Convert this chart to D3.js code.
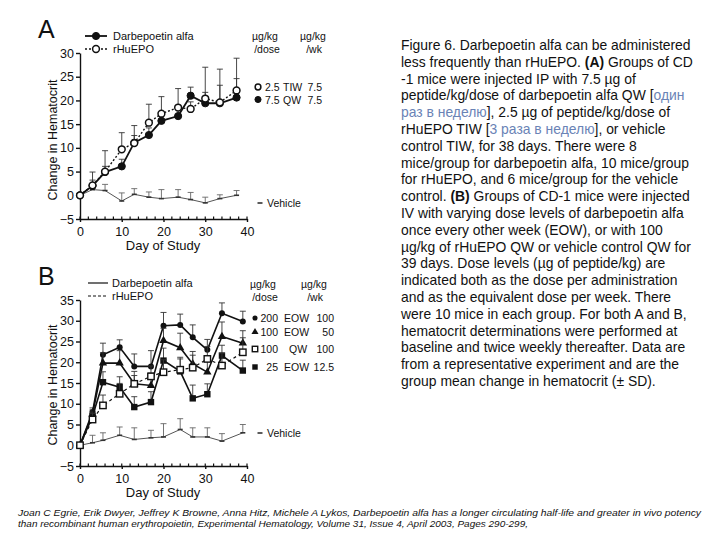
<!DOCTYPE html>
<html><head><meta charset="utf-8">
<script src="https://cdn.jsdelivr.net/npm/d3@7"></script>
<style>
body{margin:0;background:#fff}
svg{display:block}
text{font-family:"Liberation Sans",Arial,sans-serif;fill:#111}
</style>
</head><body>
<svg id="c" width="720" height="540"></svg>
<script>
// ---------- DATA ----------
const xTicks = [0, 10, 20, 30, 40];
const yTicksA = [-5, 0, 5, 10, 15, 20, 25, 30];
const yTicksB = [-5, 0, 5, 10, 15, 20, 25, 30, 35];

// Panel A
const daysA   = [0, 3, 6, 10, 13, 16.5, 19.5, 23.5, 26.5, 30, 33.5, 37.5];
const darbA   = [0, 2.0, 4.9, 6.1, 11.1, 12.7, 15.7, 16.7, 21.0, 19.4, 19.4, 20.6];
const darbASd = [0, 1.2, 1.2, 1.5, 1.5, 1.5, 1.5, 1.5, 1.8, 2.3, 3.8, 4.0];
const epoA    = [0, 2.1, 5.0, 9.7, 11.0, 15.3, 17.2, 18.5, 18.2, 20.4, 19.6, 22.1];
const epoASd  = [0, 2.8, 4.4, 3.5, 3.7, 3.9, 3.6, 4.0, 1.5, 6.6, 7.0, 6.8];
const vehA    = [0, 1.2, 1.0, -1.2, 0.2, -0.4, -0.7, -0.4, -0.9, -1.6, -0.7, 0.0];
const vehASd  = [0, 0.6, 1.3, 1.7, 1.2, 1.1, 1.9, 1.6, 1.5, 1.2, 0.8, 1.0];

// Panel B
const daysB   = [0, 3, 5.5, 9.5, 13, 17, 20, 24, 27, 30.5, 34, 39];
const d200B   = [0, 8.0, 21.8, 23.6, 19.0, 19.0, 28.8, 29.0, 26.0, 23.0, 31.8, 29.8];
const d200BSd = [0, 1.0, 2.8, 1.8, 3.0, 3.8, 3.2, 2.6, 3.0, 2.5, 2.5, 2.5];
const d100B   = [0, 7.5, 19.8, 19.8, 14.8, 14.4, 25.2, 23.5, 19.6, 17.6, 26.2, 24.6];
const d100BSd = [0, 1.0, 2.5, 3.0, 3.0, 3.0, 3.0, 3.5, 3.0, 3.0, 3.5, 3.0];
const epoB    = [0, 6.2, 9.6, 12.4, 14.8, 16.6, 17.6, 18.2, 18.7, 20.8, 19.2, 22.4];
const epoBSd  = [0, 1.5, 2.5, 2.5, 2.0, 2.5, 3.0, 3.0, 3.0, 3.0, 3.0, 3.5];
const d25B    = [0, 7.0, 15.2, 14.0, 9.2, 10.4, 20.4, 17.8, 11.3, 12.3, 21.6, 18.0];
const d25BSd  = [0, 1.0, 2.5, 2.5, 2.5, 2.5, 3.0, 3.0, 3.2, 2.5, 2.5, 2.5];
const vehB    = [0, 0.6, 1.2, 2.4, 1.4, 1.8, 2.0, 3.8, 2.0, 2.0, 1.0, 3.0];
const vehBSd  = [0, 1.8, 1.8, 2.0, 2.8, 1.8, 3.2, 2.6, 2.2, 2.2, 1.8, 2.0];

// Legend labels
const legA = [["2.5", "TIW", "7.5"], ["7.5", "QW", "7.5"]];
const legB = [["200", "EOW", "100"], ["100", "EOW", "50"], ["100", "QW", "100"], ["25", "EOW", "12.5"]];

// Caption
const caption = [
  [["Figure 6. Darbepoetin alfa can be administered"]],
  [["less frequently than rHuEPO. "], ["(A)", "b"], [" Groups of CD"]],
  [["-1 mice were injected IP with 7.5 µg of"]],
  [["peptide/kg/dose of darbepoetin alfa QW ["], ["один", "r"]],
  [["раз в неделю", "r"], ["], 2.5 µg of peptide/kg/dose of"]],
  [["rHuEPO TIW ["], ["3 раза в неделю", "r"], ["], or vehicle"]],
  [["control TIW, for 38 days. There were 8"]],
  [["mice/group for darbepoetin alfa, 10 mice/group"]],
  [["for rHuEPO, and 6 mice/group for the vehicle"]],
  [["control. "], ["(B)", "b"], [" Groups of CD-1 mice were injected"]],
  [["IV with varying dose levels of darbepoetin alfa"]],
  [["once every other week (EOW), or with 100"]],
  [["µg/kg of rHuEPO QW or vehicle control QW for"]],
  [["39 days. Dose levels (µg of peptide/kg) are"]],
  [["indicated both as the dose per administration"]],
  [["and as the equivalent dose per week. There"]],
  [["were 10 mice in each group. For both A and B,"]],
  [["hematocrit determinations were performed at"]],
  [["baseline and twice weekly thereafter. Data are"]],
  [["from a representative experiment and are the"]],
  [["group mean change in hematocrit (± SD)."]]
];
const footer = [
  "Joan C Egrie, Erik Dwyer, Jeffrey K Browne, Anna Hitz, Michele A Lykos, Darbepoetin alfa has a longer circulating half-life and greater in vivo potency",
  "than recombinant human erythropoietin, Experimental Hematology, Volume 31, Issue 4, April 2003, Pages 290-299,"
];

// ---------- DRAW ----------
const svg = d3.select("#c");
const INK = "#111";

function symbol(g, type, cx, cy, k = 1) {
  if (type === "circleFill") g.append("circle").attr("cx", cx).attr("cy", cy).attr("r", 3.6 * k).attr("fill", INK).attr("stroke", INK);
  else if (type === "circleOpen") g.append("circle").attr("cx", cx).attr("cy", cy).attr("r", 3.4 * k).attr("fill", "#fff").attr("stroke", INK).attr("stroke-width", 1.5);
  else if (type === "dot") g.append("circle").attr("cx", cx).attr("cy", cy).attr("r", 3 * k).attr("fill", INK);
  else if (type === "tri") g.append("path").attr("d", d3.symbol(d3.symbolTriangle, 30 * k * k)()).attr("transform", `translate(${cx},${cy})`).attr("fill", INK);
  else if (type === "sqOpen") g.append("rect").attr("x", cx - 3.2 * k).attr("y", cy - 3.2 * k).attr("width", 6.4 * k).attr("height", 6.4 * k).attr("fill", "#fff").attr("stroke", INK).attr("stroke-width", 1.4);
  else if (type === "sqFill") g.append("rect").attr("x", cx - 3.2 * k).attr("y", cy - 3.2 * k).attr("width", 6.4 * k).attr("height", 6.4 * k).attr("fill", INK);
  else if (type === "dash") g.append("line").attr("x1", cx - 2.5).attr("x2", cx + 2.5).attr("y1", cy).attr("y2", cy).attr("stroke", "#333").attr("stroke-width", 1.6);
}

function panel(cfg) {
  const g = svg.append("g");
  const x = d3.scaleLinear().domain([0, 40]).range([80, 247]);
  const y = d3.scaleLinear().domain([-5, cfg.ymax]).range([cfg.bottom, cfg.top]);

  const ya = g.append("g").attr("transform", "translate(80,0)")
    .call(d3.axisLeft(y).tickValues(cfg.yTicks).tickSize(4).tickPadding(2).tickSizeOuter(0));
  ya.selectAll("text").attr("font-size", 12.5).style("fill", INK);
  ya.selectAll("line,path").attr("stroke", INK).attr("stroke-width", 1.4);

  const xa = g.append("g").attr("transform", `translate(0,${cfg.bottom})`)
    .call(d3.axisBottom(x).tickValues(xTicks).tickSize(3).tickPadding(5).tickSizeOuter(0));
  xa.selectAll("text").attr("font-size", 12.5).style("fill", INK);
  xa.selectAll("line,path").attr("stroke", INK).attr("stroke-width", 1.4);
  g.append("g").selectAll("line").data(d3.range(0, 41, 2)).join("line")
    .attr("x1", d => x(d)).attr("x2", d => x(d))
    .attr("y1", cfg.bottom - 2.5).attr("y2", cfg.bottom + 1)
    .attr("stroke", INK).attr("stroke-width", 1.2);

  g.append("text").attr("x", 163).attr("y", cfg.bottom + 31).attr("text-anchor", "middle")
    .attr("font-size", 13).text("Day of Study");
  g.append("text").attr("transform", `translate(57,${cfg.ylabY}) rotate(-90)`).attr("text-anchor", "middle")
    .attr("font-size", 12.5).text("Change in Hematocrit");
  g.append("text").attr("x", 38).attr("y", cfg.top - 15).attr("font-size", 25).text(cfg.letter);

  cfg.series.forEach(s => {
    const pts = cfg.days.map((d, i) => [d, s.v[i], s.sd[i]]);
    const eb = g.append("g").attr("stroke", s.eColor || "#333").attr("stroke-width", 0.9);
    pts.forEach(p => {
      if (!p[2]) return;
      eb.append("line").attr("x1", x(p[0])).attr("x2", x(p[0])).attr("y1", y(p[1])).attr("y2", y(p[1] + p[2]));
      eb.append("line").attr("x1", x(p[0]) - 3).attr("x2", x(p[0]) + 3).attr("y1", y(p[1] + p[2])).attr("y2", y(p[1] + p[2]));
    });
    g.append("path").datum(pts)
      .attr("d", d3.line().x(p => x(p[0])).y(p => y(p[1])))
      .attr("fill", "none").attr("stroke", s.color || INK).attr("stroke-width", s.w)
      .attr("stroke-dasharray", s.dash || null);
    const mg = g.append("g");
    pts.forEach(p => symbol(mg, s.sym, x(p[0]), y(p[1])));
  });
  return g;
}

panel({
  letter: "A", top: 53, bottom: 219, ymax: 30, yTicks: yTicksA, ylabY: 140, days: daysA,
  series: [
    { v: vehA, sd: vehASd, sym: "dash", w: 1, color: "#555", eColor: "#666" },
    { v: darbA, sd: darbASd, sym: "circleFill", w: 1.8 },
    { v: epoA, sd: epoASd, sym: "circleOpen", w: 1.4, dash: "2,2" }
  ]
});
panel({
  letter: "B", top: 300, bottom: 466, ymax: 35, yTicks: yTicksB, ylabY: 385, days: daysB,
  series: [
    { v: vehB, sd: vehBSd, sym: "dash", w: 1, color: "#555", eColor: "#666" },
    { v: d200B, sd: d200BSd, sym: "dot", w: 1.6 },
    { v: d100B, sd: d100BSd, sym: "tri", w: 1.6 },
    { v: d25B, sd: d25BSd, sym: "sqFill", w: 1.6 },
    { v: epoB, sd: epoBSd, sym: "sqOpen", w: 1.2, dash: "3,3" }
  ]
});

// Left legends
const lg = svg.append("g").attr("font-size", 11);
lg.append("line").attr("x1", 85).attr("x2", 107).attr("y1", 36).attr("y2", 36).attr("stroke", INK).attr("stroke-width", 1.8);
symbol(lg, "circleFill", 96, 36);
lg.append("text").attr("x", 113).attr("y", 40).text("Darbepoetin alfa");
lg.append("line").attr("x1", 85).attr("x2", 107).attr("y1", 49).attr("y2", 49).attr("stroke", INK).attr("stroke-width", 1.4).attr("stroke-dasharray", "2,2");
symbol(lg, "circleOpen", 96, 49);
lg.append("text").attr("x", 113).attr("y", 53).text("rHuEPO");
lg.append("line").attr("x1", 88).attr("x2", 108).attr("y1", 283).attr("y2", 283).attr("stroke", INK).attr("stroke-width", 1.2);
lg.append("text").attr("x", 112).attr("y", 287).text("Darbepoetin alfa");
lg.append("line").attr("x1", 88).attr("x2", 108).attr("y1", 296).attr("y2", 296).attr("stroke", INK).attr("stroke-width", 1.2).attr("stroke-dasharray", "3,2");
lg.append("text").attr("x", 112).attr("y", 300).text("rHuEPO");

// Right-hand dose legends
const rg = svg.append("g").attr("font-size", 10.5);
function header(y1, y2, c1, c2) {
  rg.append("text").attr("x", c1).attr("y", y1).attr("text-anchor", "middle").text("µg/kg");
  rg.append("text").attr("x", c1 + 2).attr("y", y2).attr("text-anchor", "middle").text("/dose");
  rg.append("text").attr("x", c2).attr("y", y1).attr("text-anchor", "middle").text("µg/kg");
  rg.append("text").attr("x", c2 + 1).attr("y", y2).attr("text-anchor", "middle").text("/wk");
}
header(40, 53, 265, 313);
header(288, 301, 263, 314);
const symA = ["circleOpen", "circleFill"];
legA.forEach((r, i) => {
  const yy = 87 + i * 12.5;
  symbol(rg, symA[i], 258, yy, 0.85);
  rg.append("text").attr("x", 265).attr("y", yy + 4).text(r[0]);
  rg.append("text").attr("x", 283).attr("y", yy + 4).text(r[1]);
  rg.append("text").attr("x", 322).attr("y", yy + 4).attr("text-anchor", "end").text(r[2]);
});
const symB = ["dot", "tri", "sqOpen", "sqFill"];
const rowYB = [318, 332, 349, 367];
legB.forEach((r, i) => {
  const yy = rowYB[i];
  symbol(rg, symB[i], 255, yy, 0.85);
  rg.append("text").attr("x", 278).attr("y", yy + 4).attr("text-anchor", "end").text(r[0]);
  rg.append("text").attr("x", r[1] === "QW" ? 289 : 284).attr("y", yy + 4).text(r[1]);
  rg.append("text").attr("x", 334).attr("y", yy + 4).attr("text-anchor", "end").text(r[2]);
});
[203, 433].forEach(yy => {
  symbol(rg, "dash", 260, yy);
  rg.append("text").attr("x", 267).attr("y", yy + 4).text("Vehicle");
});

// Caption
const cap = svg.append("g").attr("font-size", 13.9);
caption.forEach((segs, i) => {
  const t = cap.append("text").attr("x", 401).attr("y", 50 + i * 16.8);
  segs.forEach(s => {
    const ts = t.append("tspan").text(s[0]);
    if (s[1] === "b") ts.attr("font-weight", "bold");
    if (s[1] === "r") ts.style("fill", "#6a83b6");
  });
});

// Footer
const fw = [683, 510];
footer.forEach((f, i) => {
  svg.append("text").attr("x", 18).attr("y", 515.5 + i * 11)
    .attr("font-size", 9.6).attr("font-style", "italic")
    .attr("textLength", fw[i]).attr("lengthAdjust", "spacingAndGlyphs").text(f);
});
</script>
</body></html>
